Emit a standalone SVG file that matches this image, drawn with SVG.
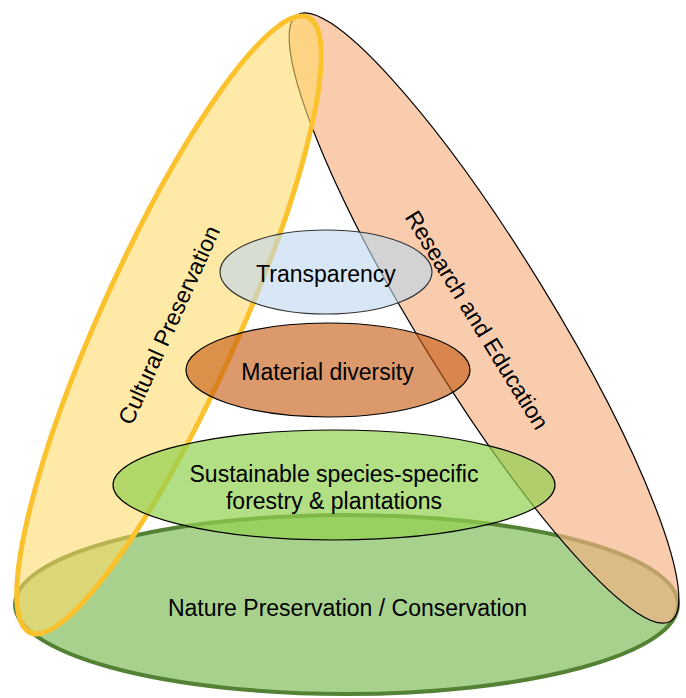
<svg xmlns="http://www.w3.org/2000/svg" width="686" height="698" viewBox="0 0 686 698">
<style>
text{font-family:"Liberation Sans",Arial,"DejaVu Sans",sans-serif;font-size:23px;fill:#000;text-anchor:middle}
.thin{stroke:#000;stroke-width:1.2}
</style>
<rect width="686" height="698" fill="#fff"/>
<g id="nature">
<ellipse cx="346.5" cy="604.5" rx="331.5" ry="89.5" fill="#A9D18E" stroke="#548235" stroke-width="4"/>
</g>
<g id="research">
<ellipse cx="484" cy="318" rx="356" ry="66" transform="rotate(58.4 484 318)" fill="#F4B183" fill-opacity="0.66" class="thin"/>
</g>
<g id="cultural">
<ellipse cx="169" cy="325" rx="337.5" ry="68.5" transform="rotate(-65.7 169 325)" fill="#FFD966" fill-opacity="0.58" stroke="#FBC22D" stroke-width="5"/>
</g>
<g id="sustainable">
<ellipse cx="334" cy="485" rx="221" ry="55" fill="#92D050" fill-opacity="0.7" class="thin"/>
</g>
<g id="material">
<ellipse cx="328" cy="370" rx="142" ry="47" fill="#C55A11" fill-opacity="0.62" class="thin"/>
</g>
<g id="transparency">
<ellipse cx="326" cy="272" rx="106" ry="42" fill="#BDD7EE" fill-opacity="0.6" stroke="#333" stroke-width="1.2"/>
</g>
<g id="labels">
<text x="326" y="282">Transparency</text>
<text x="327.5" y="380">Material diversity</text>
<text x="334" y="482">Sustainable species-specific</text>
<text x="334" y="509">forestry &amp; plantations</text>
<text x="347.5" y="616">Nature Preservation / Conservation</text>
<text transform="translate(169 325) rotate(-65.7)" x="0" y="8">Cultural Preservation</text>
<text transform="translate(477 320) rotate(58.4)" x="0" y="8">Research and Education</text>
</g>
</svg>
